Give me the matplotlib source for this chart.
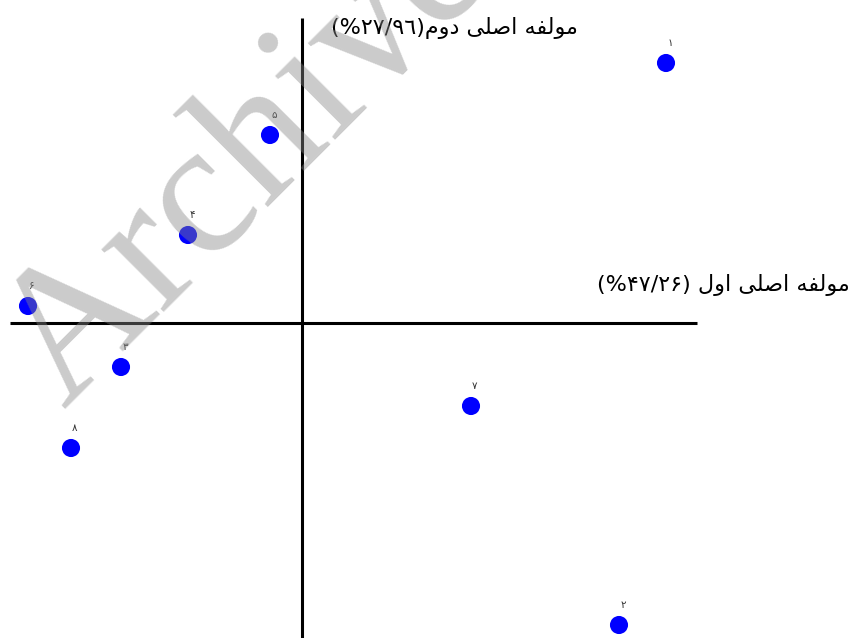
import matplotlib
matplotlib.use('Agg')
import matplotlib.pyplot as plt

# امتیاز هر نمونه روی دو مولفه اصلی (واحد دلخواه)
labels = ['۱', '۲', '۳', '۴', '۵', '۶', '۷', '۸']
pc1 = [3.64, 3.17, -1.81, -1.14, -0.32, -2.74, 1.69, -2.31]
pc2 = [2.60, -3.02, -0.44, 0.88, 1.88, 0.17, -0.83, -1.25]

pc1_title = 'مولفه اصلی اول'
pc1_share = '(%۴۷/۲۶)'
pc2_title = 'مولفه اصلی دوم'
pc2_share = '(%۲۷/٩٦)'

# اشکال حروف (منفرد، پایانی، آغازی، میانی)
FORMS = {
    'ا': ('\uFE8D', '\uFE8E', None, None),
    'د': ('\uFEA9', '\uFEAA', None, None),
    'و': ('\uFEED', '\uFEEE', None, None),
    'ل': ('\uFEDD', '\uFEDE', '\uFEDF', '\uFEE0'),
    'م': ('\uFEE1', '\uFEE2', '\uFEE3', '\uFEE4'),
    'ف': ('\uFED1', '\uFED2', '\uFED3', '\uFED4'),
    'ه': ('\uFEE9', '\uFEEA', '\uFEEB', '\uFEEC'),
    'ص': ('\uFEB9', '\uFEBA', '\uFEBB', '\uFEBC'),
    'ی': ('\uFBFC', '\uFBFD', '\uFBFE', '\uFBFF'),
}


def joins_left(ch):
    return ch in FORMS and FORMS[ch][2] is not None


def shape_word(word):
    out = []
    for i, ch in enumerate(word):
        if ch not in FORMS:
            out.append(ch)
            continue
        prev_join = i > 0 and joins_left(word[i - 1])
        next_join = joins_left(ch) and i + 1 < len(word) and word[i + 1] in FORMS
        iso, fin, ini, med = FORMS[ch]
        if prev_join and next_join:
            out.append(med)
        elif prev_join:
            out.append(fin)
        elif next_join:
            out.append(ini)
        else:
            out.append(iso)
    return ''.join(out)[::-1]


def rtl(text):
    # matplotlib متن راست به چپ را خودش چیدمان نمی کند
    return ' '.join(shape_word(w) for w in text.split(' ')[::-1])


W, H = 850, 638
fig = plt.figure(figsize=(W / 100, H / 100), dpi=100)
ax = fig.add_axes([0, 0, 1, 1])
ax.set_xlim(-3.02, 5.48)
ax.set_ylim(-3.15, 3.23)
ax.axis('off')

# محورهای مختصات
ax.plot([-2.92, 3.95], [0, 0], color='black', lw=2.2, zorder=1, solid_capstyle='butt')
ax.plot([0, 0], [-3.2, 3.05], color='black', lw=2.2, zorder=1, solid_capstyle='butt')

ax.scatter(pc1, pc2, s=170, color='#0000ff', edgecolors='none', zorder=2)
for x, y, lab in zip(pc1, pc2, labels):
    ax.annotate(lab, (x, y), xytext=(2.9, 14.4), textcoords='offset points',
                ha='center', va='center', fontsize=7.5, color='#333333',
                family=['DejaVu Sans'], zorder=5)

ax.text(2.76, 2.95, pc2_share + rtl(pc2_title), ha='right', va='center',
        fontsize=16, family=['DejaVu Sans'], zorder=5)
ax.text(5.48, 0.38, pc1_share + ' ' + rtl(pc1_title), ha='right', va='center',
        fontsize=16, family=['DejaVu Sans'], zorder=5)

# واترمارک
fig.text(64 / W, 1 - 410 / H, 'Archive', fontsize=137, family='Liberation Serif',
         color='#878787', alpha=0.43, rotation=45, rotation_mode='anchor',
         ha='left', va='baseline', zorder=3)

fig.savefig('out.png', dpi=100)
